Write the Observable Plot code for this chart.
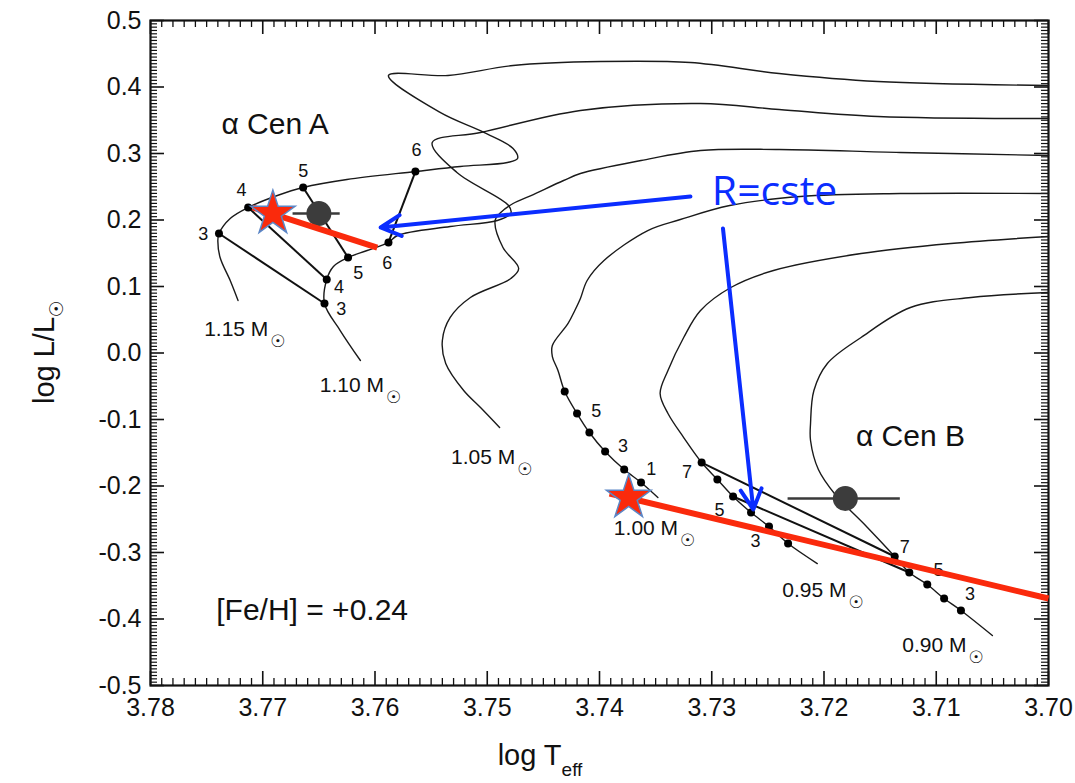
<!DOCTYPE html>
<html><head><meta charset="utf-8">
<script src="https://cdn.jsdelivr.net/npm/d3@7"></script>
<script src="https://cdn.jsdelivr.net/npm/@observablehq/plot@0.6"></script>
<style>
html,body{margin:0;padding:0;background:#fff;}
#chart svg{display:block;}
</style>
</head><body><div id="chart"></div>
<script>
// ---------- axis ticks ----------
const xTicks = [3.78, 3.77, 3.76, 3.75, 3.74, 3.73, 3.72, 3.71, 3.70];
const yTicks = [-0.5, -0.4, -0.3, -0.2, -0.1, 0, 0.1, 0.2, 0.3, 0.4, 0.5];

// ---------- evolutionary tracks [log Teff, log L] ----------
const track115 = [[3.7722,0.0789],[3.7729,0.1090],[3.7738,0.1436],[3.7740,0.1692],[3.7739,0.1797],[3.7729,0.2023],[3.7713,0.2188],[3.7687,0.2368],[3.7664,0.2489],[3.7625,0.2609],[3.7564,0.2729],[3.7524,0.2805],[3.7482,0.2865],[3.7473,0.2925],[3.7477,0.3075],[3.7503,0.3316],[3.7542,0.3617],[3.7588,0.4173],[3.7535,0.4173],[3.7477,0.4323],[3.7399,0.4383],[3.7319,0.4368],[3.7240,0.4203],[3.7152,0.4083],[3.7000,0.4023]];
const track110 = [[3.7613,-0.0113],[3.7631,0.0338],[3.7645,0.0744],[3.7643,0.1105],[3.7637,0.1301],[3.7624,0.1436],[3.7607,0.1541],[3.7588,0.1662],[3.7580,0.1767],[3.7533,0.1902],[3.7491,0.1992],[3.7479,0.2098],[3.7481,0.2218],[3.7527,0.2714],[3.7549,0.3165],[3.7506,0.3316],[3.7417,0.3647],[3.7310,0.3752],[3.7240,0.3662],[3.7152,0.3556],[3.7000,0.3526]];
const track105 = [[3.7489,-0.1120],[3.7506,-0.0820],[3.7521,-0.0564],[3.7537,-0.0158],[3.7540,0.0188],[3.7533,0.0534],[3.7515,0.0835],[3.7479,0.1120],[3.7472,0.1271],[3.7486,0.1586],[3.7493,0.1992],[3.7488,0.2113],[3.7477,0.2248],[3.7461,0.2368],[3.7432,0.2594],[3.7417,0.2699],[3.7363,0.2895],[3.7310,0.3045],[3.7240,0.3060],[3.7132,0.3015],[3.7000,0.2970]];
const track100 = [[3.7348,-0.2173],[3.7363,-0.1947],[3.7378,-0.1752],[3.7395,-0.1481],[3.7409,-0.1196],[3.7420,-0.0910],[3.7431,-0.0579],[3.7437,-0.0263],[3.7442,-0.0053],[3.7442,0.0113],[3.7428,0.0444],[3.7422,0.0639],[3.7417,0.0820],[3.7411,0.1090],[3.7396,0.1391],[3.7357,0.1842],[3.7328,0.2007],[3.7284,0.2218],[3.7221,0.2353],[3.7132,0.2398],[3.7000,0.2398]];
const track095 = [[3.7206,-0.3166],[3.7232,-0.2865],[3.7249,-0.2609],[3.7265,-0.2399],[3.7281,-0.2158],[3.7295,-0.1902],[3.7309,-0.1647],[3.7325,-0.1271],[3.7339,-0.0910],[3.7346,-0.0609],[3.7339,-0.0263],[3.7325,0.0233],[3.7310,0.0639],[3.7283,0.0985],[3.7245,0.1241],[3.7167,0.1496],[3.7087,0.1647],[3.7000,0.1752]];
const track090 = [[3.7050,-0.4248],[3.7078,-0.3872],[3.7093,-0.3692],[3.7108,-0.3481],[3.7124,-0.3301],[3.7137,-0.3060],[3.7163,-0.2594],[3.7190,-0.2128],[3.7205,-0.1752],[3.7212,-0.1316],[3.7212,-0.1060],[3.7209,-0.0564],[3.7197,-0.0158],[3.7167,0.0233],[3.7123,0.0684],[3.7069,0.0835],[3.7000,0.0910]];

// ---------- age points (Gyr) on tracks ----------
const ages115 = [[3.7739,0.1797,"3"],[3.7713,0.2188,"4"],[3.7664,0.2489,"5"],[3.7564,0.2729,"6"]];
const ages110 = [[3.7645,0.0744,"3"],[3.7643,0.1105,"4"],[3.7624,0.1436,"5"],[3.7588,0.1662,"6"]];
const ages100 = [[3.7363,-0.1947],[3.7378,-0.1752],[3.7395,-0.1481],[3.7409,-0.1196],[3.7420,-0.0910],[3.7431,-0.0579]];
const ages095 = [[3.7232,-0.2865],[3.7249,-0.2609],[3.7265,-0.2399],[3.7281,-0.2158],[3.7295,-0.1902],[3.7309,-0.1647]];
const ages090 = [[3.7078,-0.3872],[3.7093,-0.3692],[3.7108,-0.3481],[3.7124,-0.3301],[3.7137,-0.3060]];

// isochrone segments linking equal ages
const isochrones = [
  [3.7739,0.1797,3.7645,0.0744],[3.7713,0.2188,3.7643,0.1105],
  [3.7664,0.2489,3.7624,0.1436],[3.7564,0.2729,3.7588,0.1662],
  [3.7309,-0.1647,3.7137,-0.3060],[3.7281,-0.2158,3.7124,-0.3301]
];

// age labels [x, y, text]
const ageLabels = [
  [3.7753,0.1782,"3"],[3.7719,0.2444,"4"],[3.7664,0.2729,"5"],[3.7563,0.3045,"6"],
  [3.7589,0.1346,"6"],[3.7615,0.1195,"5"],[3.7632,0.0985,"4"],[3.7630,0.0654,"3"],
  [3.7403,-0.0880,"5"],[3.7379,-0.1406,"3"],[3.7354,-0.1752,"1"],
  [3.7322,-0.1797,"7"],[3.7293,-0.2368,"5"],[3.7261,-0.2835,"3"],
  [3.7128,-0.2925,"7"],[3.7098,-0.3271,"5"],[3.7070,-0.3632,"3"]
];

// mass labels (right end of text)
const massLabels = [
  [3.7695,0.0353,"1.15 M"],[3.7592,-0.0489,"1.10 M"],[3.7475,-0.1572,"1.05 M"],
  [3.7330,-0.2639,"1.00 M"],[3.7180,-0.3571,"0.95 M"],[3.7073,-0.4399,"0.90 M"]
];

// observations: [x, y, xErrLow, xErrHigh]
const observed = [[3.7650,0.2098,3.7673,3.7631],[3.7181,-0.2188,3.7232,3.7132]];
// constant radius lines (red)
const radiusLines = [[3.7709,0.2188,3.7598,0.1586],[3.7391,-0.2113,3.7000,-0.3692]];
// stars
const stars = [[3.7691,0.2098],[3.7374,-0.2173]];
// blue arrows
const arrows = [[3.7319,0.2353,3.7595,0.1887],[3.7290,0.1872,3.7263,-0.2353]];
// annotations
const notes = [[3.7689,0.3436,"α Cen A"],[3.7123,-0.1256,"α Cen B"],[3.7656,-0.3872,"[Fe/H] = +0.24"]];
const arrowNote = [[3.7244,0.2429,"R=cste"]];

// ---------- build tables ----------
const trackRows = [["1.15",track115],["1.10",track110],["1.05",track105],["1.00",track100],["0.95",track095],["0.90",track090]]
  .flatMap(([m, pts]) => pts.map(([x,y]) => ({m, x, y})));
const dotRows = [...ages115, ...ages110, ...ages100, ...ages095, ...ages090].map(([x,y]) => ({x,y}));

const W = 1075, H = 783, ML = 150, MR = 27, MT = 20, MB = 98;
const iw = W - ML - MR, ih = H - MT - MB;
const xMinor = d3.range(0, 81).filter(i => i % 10).map(i => 3.70 + i*0.001);
const yMinor = d3.range(0, 201).filter(i => i % 20).map(i => -0.5 + i*0.005);
const FONT = "'Liberation Sans', Arial, Helvetica, 'DejaVu Sans', sans-serif";
const RED = "#fa2a0c", BLUE = "#0b2dff";

const chart = Plot.plot({
  width: W, height: H,
  marginLeft: ML, marginRight: MR, marginTop: MT, marginBottom: MB,
  x: {domain: [3.78, 3.70]},
  y: {domain: [-0.5, 0.5]},
  style: {fontFamily: FONT, background: "#fff", color: "#111"},
  marks: [
    Plot.axisX(xTicks, {anchor: "bottom", tickSize: 0, tickPadding: 13, tickFormat: d => d.toFixed(2), fontSize: 25, label: null}),
    Plot.axisY(yTicks, {anchor: "left", tickSize: 0, tickPadding: 9, tickFormat: d => d.toFixed(1), fontSize: 25, label: null}),
    Plot.tickX(xMinor, {x: d => d, insetTop: ih - 7, strokeWidth: 1.3}),
    Plot.tickX(xMinor, {x: d => d, insetBottom: ih - 7, strokeWidth: 1.3}),
    Plot.tickX(xTicks, {x: d => d, insetTop: ih - 14, strokeWidth: 1.6}),
    Plot.tickX(xTicks, {x: d => d, insetBottom: ih - 14, strokeWidth: 1.6}),
    Plot.tickY(yMinor, {y: d => d, insetRight: iw - 7, strokeWidth: 1.2}),
    Plot.tickY(yMinor, {y: d => d, insetLeft: iw - 7, strokeWidth: 1.2}),
    Plot.tickY(yTicks, {y: d => d, insetRight: iw - 14, strokeWidth: 1.6}),
    Plot.tickY(yTicks, {y: d => d, insetLeft: iw - 14, strokeWidth: 1.6}),
    Plot.frame({strokeWidth: 2.2, stroke: "#111"}),
    Plot.line(trackRows, {x: "x", y: "y", z: "m", stroke: "#1a1a1a", strokeWidth: 1.4, curve: "catmull-rom"}),
    Plot.link(isochrones, {x1: d => d[0], y1: d => d[1], x2: d => d[2], y2: d => d[3], stroke: "#111", strokeWidth: 2}),
    Plot.dot(dotRows, {x: "x", y: "y", r: 4, fill: "#000"}),
    Plot.text(ageLabels, {x: d => d[0], y: d => d[1], text: d => d[2], fontSize: 18, fill: "#111"}),
    Plot.text(massLabels, {x: d => d[0], y: d => d[1], text: d => d[2], textAnchor: "end", fontSize: 21, fill: "#111"}),
    Plot.text(massLabels, {x: d => d[0], y: d => d[1], text: () => "☉", textAnchor: "start", dx: 2, dy: 12, fontSize: 17, fill: "#111", fontFamily: "'DejaVu Sans', sans-serif"}),
    Plot.text(notes, {x: d => d[0], y: d => d[1], text: d => d[2], fontSize: 30, fill: "#111"}),
    Plot.ruleY(observed, {y: d => d[1], x1: d => d[2], x2: d => d[3], stroke: "#3a3a3a", strokeWidth: 2.5}),
    Plot.dot(observed, {x: d => d[0], y: d => d[1], r: 12.5, fill: "#3c3c3c"}),
    Plot.link(radiusLines, {x1: d => d[0], y1: d => d[1], x2: d => d[2], y2: d => d[3], stroke: RED, strokeWidth: 6}),
    Plot.dot(stars, {x: d => d[0], y: d => d[1], symbol: "star", r: 14, fill: RED, stroke: "#5b86c6", strokeWidth: 1.5}),
    Plot.arrow(arrows, {x1: d => d[0], y1: d => d[1], x2: d => d[2], y2: d => d[3], stroke: BLUE, strokeWidth: 4, headLength: 8.5, headAngle: 55}),
    Plot.text(arrowNote, {x: d => d[0], y: d => d[1], text: d => d[2], fontSize: 41, fill: BLUE, fontFamily: "'Open Sans', Lato, sans-serif"})
  ]
});

// axis titles with sub-scripts
const svg = d3.select(chart);
const yl = svg.append("text")
  .attr("transform", "translate(54,352) rotate(-90)")
  .attr("text-anchor", "middle")
  .attr("font-family", FONT).attr("font-size", 29).attr("fill", "#111");
yl.append("tspan").text("log L/L");
yl.append("tspan").attr("dy", 9).attr("font-size", 19).attr("font-family", "'DejaVu Sans', sans-serif").text("☉");
const xl = svg.append("text")
  .attr("x", 540).attr("y", 765)
  .attr("text-anchor", "middle")
  .attr("font-family", FONT).attr("font-size", 29).attr("fill", "#111");
xl.append("tspan").text("log T");
xl.append("tspan").attr("dy", 11).attr("font-size", 19).text("eff");

document.getElementById("chart").append(chart);
</script></body></html>
